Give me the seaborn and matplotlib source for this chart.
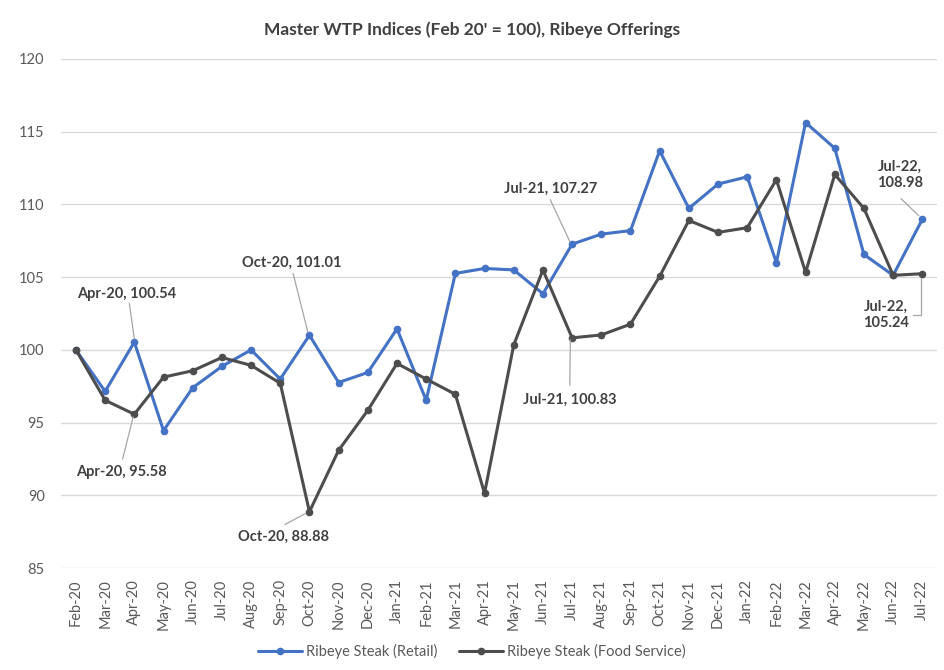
import pandas as pd
import matplotlib.pyplot as plt
import seaborn as sns

# Month labels and index values
months = ['Feb-20', 'Mar-20', 'Apr-20', 'May-20', 'Jun-20', 'Jul-20', 'Aug-20', 'Sep-20',
          'Oct-20', 'Nov-20', 'Dec-20', 'Jan-21', 'Feb-21', 'Mar-21', 'Apr-21', 'May-21',
          'Jun-21', 'Jul-21', 'Aug-21', 'Sep-21', 'Oct-21', 'Nov-21', 'Dec-21', 'Jan-22',
          'Feb-22', 'Mar-22', 'Apr-22', 'May-22', 'Jun-22', 'Jul-22']

retail = [100.0, 97.15, 100.54, 94.45, 97.4, 98.87, 100.0, 98.0, 101.01, 97.76,
          98.45, 101.45, 96.54, 105.26, 105.6, 105.5, 103.86, 107.27, 107.96, 108.2,
          113.69, 109.73, 111.4, 111.9, 106.0, 115.63, 113.86, 106.56, 105.13, 108.98]

food_service = [100.0, 96.54, 95.58, 98.13, 98.57, 99.48, 98.94, 97.71, 88.88, 93.1,
                95.85, 99.07, 98.0, 96.95, 90.15, 100.34, 105.5, 100.83, 101.03, 101.77,
                105.06, 108.9, 108.08, 108.4, 111.7, 105.33, 112.06, 109.73, 105.13, 105.24]

series_names = ['Ribeye Steak (Retail)', 'Ribeye Steak (Food Service)']
colors = ['#4472C4', '#4D4D4D']

# Build a long table for seaborn
df = pd.concat([
    pd.DataFrame({'idx': range(len(months)), 'value': retail, 'series': series_names[0]}),
    pd.DataFrame({'idx': range(len(months)), 'value': food_service, 'series': series_names[1]}),
])

sns.set_style('white')
plt.rcParams['font.family'] = ['Lato', 'DejaVu Sans']

fig = plt.figure(figsize=(9.44, 6.7), dpi=100)
ax = fig.add_axes([0.065, 0.152, 0.9275, 0.760])

sns.lineplot(data=df, x='idx', y='value', hue='series', palette=colors,
             marker='o', markersize=5.5, markeredgewidth=0, linewidth=2.2,
             ax=ax, legend=True)

ax.set_xlim(-0.5, len(months) - 0.5)
ax.set_ylim(85, 120)
ax.set_yticks(range(85, 121, 5))
ax.set_xticks(range(len(months)))
ax.set_xticklabels(months, rotation=90)
ax.tick_params(axis='both', length=0, colors='#595959', labelsize=10.5)
ax.tick_params(axis='x', pad=8)
ax.tick_params(axis='y', pad=12)
ax.grid(axis='y', color='#D9D9D9', linewidth=1)
ax.set_axisbelow(True)
for s in ax.spines.values():
    s.set_visible(False)
ax.set_xlabel('')
ax.set_ylabel('')

fig.text(0.5, 0.955, "Master WTP Indices (Feb 20' = 100), Ribeye Offerings",
         ha='center', va='center', fontsize=12.5, color='#404040', weight='bold')

# Data labels with leader lines (text x, text y, line points)
labels = [
    ('Apr-20, 100.54', 1.74, 103.85, [(1.83, 103.2), (2.0, 100.75)]),
    ('Apr-20, 95.58', 1.57, 91.59, [(1.6, 92.5), (1.96, 95.4)]),
    ('Oct-20, 101.01', 7.41, 105.98, [(7.44, 105.25), (7.95, 101.2)]),
    ('Oct-20, 88.88', 7.1, 87.15, [(7.16, 88.0), (7.85, 88.74)]),
    ('Jul-21, 107.27', 16.26, 111.09, [(16.25, 110.33), (16.92, 107.46)]),
    ('Jul-21, 100.83', 16.92, 96.54, [(16.92, 97.57), (16.94, 100.7)]),
    ('Jul-22,\n108.98', 28.22, 112.04, [(28.27, 110.4), (28.88, 109.22)]),
    ('Jul-22,\n105.24', 27.76, 102.38, [(28.67, 102.43), (28.96, 102.43), (28.96, 104.93)]),
]
for text, tx, ty, pts in labels:
    ax.text(tx, ty, text, ha='center', va='center', fontsize=10.5,
            color='#404040', weight='bold', linespacing=1.2)
    ax.plot([p[0] for p in pts], [p[1] for p in pts], color='#A6A6A6', linewidth=0.9)

handles, lbls = ax.get_legend_handles_labels()
ax.legend(handles, lbls, loc='center', bbox_to_anchor=(0.5, 0.027),
          bbox_transform=fig.transFigure, ncol=2, frameon=False,
          fontsize=10.5, labelcolor='#595959', handlelength=3,
          handletextpad=0.3, columnspacing=1.5)

fig.savefig('out.png', dpi=100)
